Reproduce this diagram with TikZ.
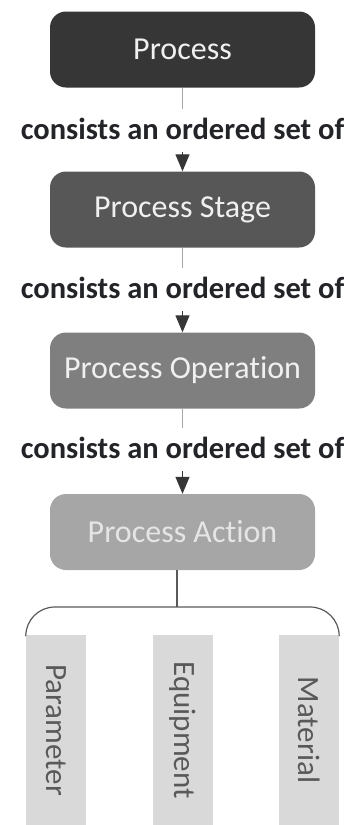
\documentclass[tikz,border=0pt]{standalone}
\usepackage{fontspec}
\usepackage{graphicx}
\setmainfont{Carlito}[Ligatures=NoCommon]
\usetikzlibrary{arrows.meta}

\definecolor{shadeA}{HTML}{363636}
\definecolor{shadeB}{HTML}{575757}
\definecolor{shadeC}{HTML}{7F7F7F}
\definecolor{shadeD}{HTML}{A6A6A6}
\definecolor{partfill}{HTML}{D9D9D9}
\definecolor{parttext}{HTML}{595959}
\definecolor{labelcol}{HTML}{222428}

\begin{document}
\begin{tikzpicture}[x=1pt, y=-1pt,
  procbox/.style={fill=#1, rounded corners=16pt, minimum width=265pt, minimum height=76pt,
    text=white!94!black, font=\fontsize{32}{38}\selectfont},
  relabel/.style={anchor=base, fill=white, inner xsep=0pt, inner ysep=8pt, text depth=5pt,
    text=labelcol, font=\bfseries\fontsize{30.5}{36}\selectfont},
  partbox/.style={fill=partfill, minimum width=60pt, minimum height=190pt, inner sep=0pt,
    text=parttext, font=\fontsize{31}{36}\selectfont}]

	% keep the page the size of the reference
	\useasboundingbox (0,0) rectangle (355,825);

	% the four levels
	\node[procbox=shadeA] (p1) at (182.5,49.5) {Process};
	\node[procbox=shadeB] (p2) at (182.5,209.5) {Process Stage};
	\node[procbox=shadeC] (p3) at (182.5,370.5) {Process Operation};
	\node[procbox=shadeD, text=white!90!black] (p4) at (182.5,532) {Process Action};

	% labels between the levels
	\node[relabel] (l1) at (182.5,139) {consists an ordered set of};
	\node[relabel] (l2) at (182.5,298) {consists an ordered set of};
	\node[relabel] (l3) at (182.5,458) {consists an ordered set of};

	\foreach \a/\l/\b in {p1/l1/p2, p2/l2/p3, p3/l3/p4} {
		\draw[line width=1.8pt, shadeD] (\a) -- (\l);
		\draw[line width=1.2pt, shadeA, -{Triangle[length=17pt,width=14pt]}] (\l) -- (\b);
	}

	% the three parts of an action
	\node[partbox] (par) at (56,730) {\rotatebox{-90}{Parameter}};
	\node[partbox] (equ) at (183,730) {\rotatebox{-90}{Equipment}};
	\node[partbox] (mat) at (309,730) {\rotatebox{-90}{Material}};

	\coordinate (fork) at (177,607);
	\draw[line width=1.2pt, parttext] ([xshift=-5.5pt]p4.south) -- (fork);
	\draw[line width=1.2pt, parttext, rounded corners=29pt] (par.north west) |- (fork) -| (mat.north east);

\end{tikzpicture}
\end{document}
